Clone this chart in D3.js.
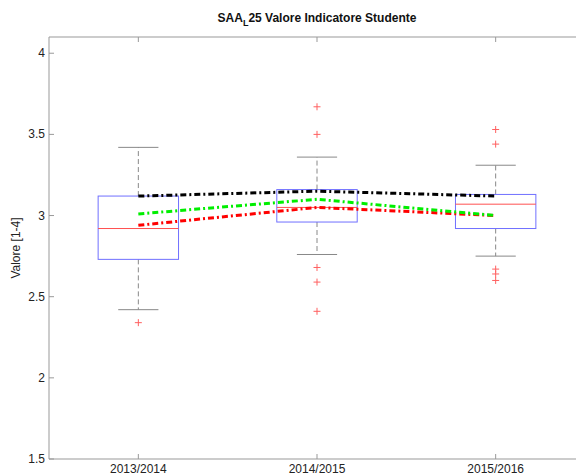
<!DOCTYPE html>
<html>
<head>
<meta charset="utf-8">
<script src="https://cdn.jsdelivr.net/npm/d3@7"></script>
<style>
  body { margin: 0; background: #fff; }
  svg text { font-family: "Liberation Sans", Arial, sans-serif; }
</style>
</head>
<body>
<div id="chart"></div>
<script>
// Categories (academic years)
const years = ["2013/2014", "2014/2015", "2015/2016"];

// Box statistics per year
const whiskerLow  = [2.42, 2.76, 2.75];
const q1          = [2.73, 2.96, 2.92];
const medians     = [2.92, 3.05, 3.07];
const q3          = [3.12, 3.16, 3.13];
const whiskerHigh = [3.42, 3.36, 3.31];
const outliers    = [[2.34], [3.67, 3.50, 2.68, 2.59, 2.41], [3.53, 3.44, 2.67, 2.64, 2.60]];

// Trend series drawn over the boxes
const blackSeries = [3.12, 3.15, 3.12];
const greenSeries = [3.01, 3.10, 3.00];
const redSeries   = [2.94, 3.05, 3.00];

const yTicks = [1.5, 2, 2.5, 3, 3.5, 4];

const width = 576, height = 475;
const margin = {top: 37, left: 49, bottom: 16};

const svg = d3.select("#chart").append("svg")
  .attr("width", width)
  .attr("height", height);

// x: category index 1..3, domain 0.5..3.5 (right edge falls outside the picture)
const x = d3.scaleLinear().domain([0.5, 3.5]).range([margin.left, 585]);
const y = d3.scaleLinear().domain([1.5, 4.1]).range([height - margin.bottom, margin.top]);

const axisColor = "#999";
const boxW = 0.45, capW = 0.225;

// Axes frame
svg.append("line").attr("x1", x(0.5)).attr("x2", width).attr("y1", y(4.1)).attr("y2", y(4.1))
  .attr("stroke", axisColor);
svg.append("line").attr("x1", x(0.5)).attr("x2", width).attr("y1", y(1.5)).attr("y2", y(1.5))
  .attr("stroke", axisColor);
svg.append("line").attr("x1", x(0.5)).attr("x2", x(0.5)).attr("y1", y(1.5)).attr("y2", y(4.1))
  .attr("stroke", axisColor);

// Y ticks (inward) and labels
yTicks.forEach(t => {
  svg.append("line").attr("x1", x(0.5)).attr("x2", x(0.5) + 5)
    .attr("y1", y(t)).attr("y2", y(t)).attr("stroke", axisColor);
  svg.append("text").attr("x", x(0.5) - 4).attr("y", y(t) + 4)
    .attr("text-anchor", "end").attr("font-size", 12).attr("fill", "#222")
    .text(t);
});

// X ticks (inward at bottom and top) and labels
years.forEach((yr, i) => {
  const cx = x(i + 1);
  svg.append("line").attr("x1", cx).attr("x2", cx).attr("y1", y(1.5)).attr("y2", y(1.5) - 5)
    .attr("stroke", axisColor);
  svg.append("line").attr("x1", cx).attr("x2", cx).attr("y1", y(4.1)).attr("y2", y(4.1) + 5)
    .attr("stroke", axisColor);
  svg.append("text").attr("x", cx).attr("y", 473)
    .attr("text-anchor", "middle").attr("font-size", 12).attr("fill", "#222")
    .text(yr);
});

// Boxes
years.forEach((yr, i) => {
  const c = i + 1, cx = x(c);
  const g = svg.append("g");

  // whiskers (dashed)
  g.append("line").attr("x1", cx).attr("x2", cx).attr("y1", y(q3[i])).attr("y2", y(whiskerHigh[i]))
    .attr("stroke", "#888").attr("stroke-dasharray", "5,3");
  g.append("line").attr("x1", cx).attr("x2", cx).attr("y1", y(q1[i])).attr("y2", y(whiskerLow[i]))
    .attr("stroke", "#888").attr("stroke-dasharray", "5,3");

  // caps
  [whiskerHigh[i], whiskerLow[i]].forEach(v => {
    g.append("line").attr("x1", x(c - capW / 2)).attr("x2", x(c + capW / 2))
      .attr("y1", y(v)).attr("y2", y(v)).attr("stroke", "#888");
  });

  // box
  g.append("rect").attr("x", x(c - boxW / 2)).attr("y", y(q3[i]))
    .attr("width", x(c + boxW / 2) - x(c - boxW / 2)).attr("height", y(q1[i]) - y(q3[i]))
    .attr("fill", "none").attr("stroke", "#7070ff");

  // median
  g.append("line").attr("x1", x(c - boxW / 2)).attr("x2", x(c + boxW / 2))
    .attr("y1", y(medians[i])).attr("y2", y(medians[i])).attr("stroke", "#ff5050");

  // outliers
  outliers[i].forEach(v => {
    g.append("path")
      .attr("d", `M${cx - 3.5},${y(v)}h7M${cx},${y(v) - 3.5}v7`)
      .attr("stroke", "#ff6060");
  });
});

// Trend lines (dash-dot, thick)
const line = d3.line().x((d, i) => x(i + 1)).y(d => y(d));
[[redSeries, "#ff0000"], [greenSeries, "#00ee00"], [blackSeries, "#000"]].forEach(([s, col]) => {
  svg.append("path").datum(s).attr("d", line)
    .attr("fill", "none").attr("stroke", col).attr("stroke-width", 3)
    .attr("stroke-dasharray", "6,3,2,3");
});

// Title with subscript
const title = svg.append("text").attr("x", x(2)).attr("y", 22)
  .attr("text-anchor", "middle").attr("font-size", 12).attr("font-weight", "bold").attr("fill", "#111");
title.append("tspan").text("SAA");
title.append("tspan").attr("font-size", 9).attr("dy", 4).text("L");
title.append("tspan").attr("dy", -4).text("25 Valore Indicatore Studente");

// Y label
svg.append("text")
  .attr("transform", `translate(20,${y(2.8)}) rotate(-90)`)
  .attr("text-anchor", "middle").attr("font-size", 12).attr("fill", "#222")
  .text("Valore [1-4]");
</script>
</body>
</html>
